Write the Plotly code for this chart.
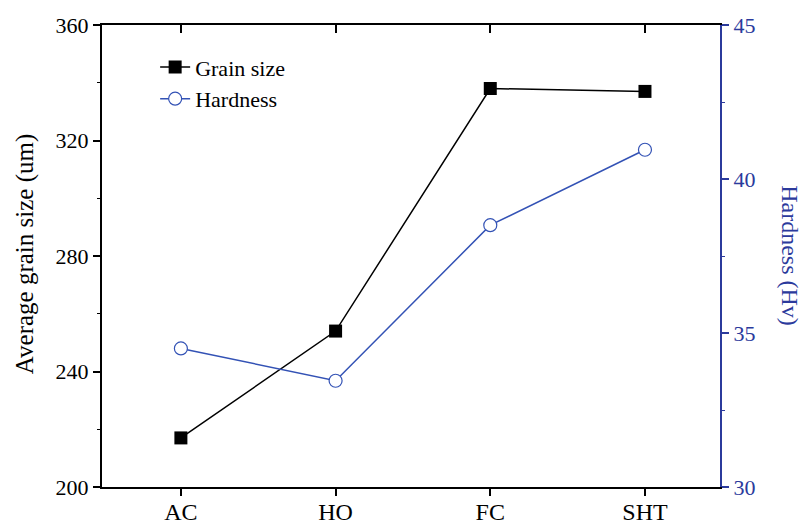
import plotly.graph_objects as go

categories = ["AC", "HO", "FC", "SHT"]
grain_size = [217, 254, 338, 337]
hardness = [34.5, 33.45, 38.5, 40.95]

FONT = "Liberation Serif"
BLUE_AX = "#2B3A9C"
BLUE_LN = "#3352B5"

fig = go.Figure()
fig.add_trace(go.Scatter(
    x=categories, y=grain_size, name="Grain size", mode="lines+markers",
    line=dict(color="black", width=1.5),
    marker=dict(symbol="square", size=13, color="black"),
    xaxis="x", yaxis="y"))
fig.add_trace(go.Scatter(
    x=categories, y=hardness, name="Hardness", mode="lines+markers",
    line=dict(color=BLUE_LN, width=1.5),
    marker=dict(symbol="circle", size=13, color="white", line=dict(color=BLUE_LN, width=1.2)),
    xaxis="x", yaxis="y2"))
# invisible trace to anchor the top axis
fig.add_trace(go.Scatter(x=categories, y=grain_size, mode="markers", marker=dict(opacity=0),
                         showlegend=False, hoverinfo="skip", xaxis="x2", yaxis="y"))

xr = [-0.51, 3.485]
fig.update_layout(
    width=806, height=528,
    margin=dict(l=102, r=86, t=25, b=41, autoexpand=False),
    paper_bgcolor="white", plot_bgcolor="white",
    font=dict(family=FONT, size=22, color="black"),
    showlegend=True,
    legend=dict(x=0.086, y=0.954, xanchor="left", yanchor="top",
                bgcolor="rgba(0,0,0,0)", font=dict(family=FONT, size=22),
                tracegroupgap=0),
    xaxis=dict(type="category", categoryorder="array", categoryarray=categories,
               range=xr, showline=True, linecolor="black", linewidth=2,
               ticks="outside", ticklen=7, tickwidth=1.5, tickcolor="black",
               showgrid=False, zeroline=False, automargin=False,
               ticklabelstandoff=-5,
               tickfont=dict(family=FONT, size=24)),
    xaxis2=dict(type="category", categoryorder="array", categoryarray=categories,
                range=xr, overlaying="x", side="top", anchor="y",
                showline=True, linecolor="black", linewidth=2,
                ticks="inside", ticklen=8, tickwidth=1.5, tickcolor="black",
                showticklabels=False, showgrid=False, zeroline=False, automargin=False),
    yaxis=dict(range=[200, 360], dtick=40, tick0=200,
               showline=True, linecolor="black", linewidth=2,
               ticks="outside", ticklen=7, tickwidth=1.5, tickcolor="black",
               minor=dict(dtick=20, ticks="outside", ticklen=3, tickcolor="black", tickwidth=1),
               showgrid=False, zeroline=False, automargin=False,
               tickfont=dict(family=FONT, size=22)),
    yaxis2=dict(range=[30, 45], dtick=5, tick0=30, overlaying="y", side="right",
                anchor="x",
                showline=True, linecolor=BLUE_AX, linewidth=2,
                ticks="outside", ticklen=7, tickwidth=1.5, tickcolor=BLUE_AX,
                minor=dict(dtick=2.5, ticks="outside", ticklen=3, tickcolor=BLUE_AX, tickwidth=1),
                showgrid=False, zeroline=False, automargin=False,
                tickfont=dict(family=FONT, size=22, color=BLUE_AX)),
    annotations=[
        dict(text="Average grain size (um)", xref="paper", yref="paper",
             x=-0.1246, y=0.504, xanchor="center", yanchor="middle", textangle=-90,
             showarrow=False, font=dict(family=FONT, size=25, color="black")),
        dict(text="Hardness (Hv)", xref="paper", yref="paper",
             x=1.113, y=0.5, xanchor="center", yanchor="middle", textangle=90,
             showarrow=False, borderpad=0,
             font=dict(family=FONT, size=24, color=BLUE_AX)),
    ],
)

fig.write_html("out.html")
